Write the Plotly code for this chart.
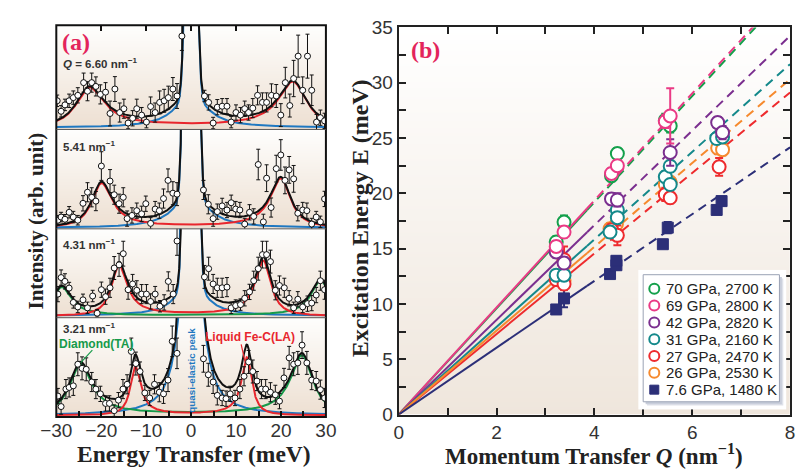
import numpy as np
import plotly.graph_objects as go

# ------------------------------------------------------------------
# Panel (a): IXS spectra (intensity in arbitrary units, per spectrum)
# ------------------------------------------------------------------
spec_labels = ["<b><i>Q</i> = 6.60 nm<sup>−1</sup></b>", "<b>5.41 nm<sup>−1</sup></b>",
               "<b>4.31 nm<sup>−1</sup></b>", "<b>3.21 nm<sup>−1</sup></b>"]

E_660 = [-29.8, -28.93, -28.07, -27.14, -26.21, -25.21, -23.92, -23.06, -22.12, -21.19, -20.19, -19.04,
         -18.04, -16.96, -15.89, -14.96, -14.02, -13.02, -12.09, -11.01, -9.94, -9.01, -8.0, -7.0, -6.0,
         -5.07, -4.06, -3.13, -2.05,
         2.97, 3.9, 4.9, 5.83, 6.91, 7.98, 8.92, 9.99, 10.99, 11.93, 12.79, 13.72, 14.79, 15.87, 16.8,
         17.88, 18.95, 19.96, 20.96, 21.96, 22.82, 23.82, 24.83, 25.9, 26.84, 27.91, 28.77, 29.7]
I_660 = [28, 17, 23.7, 28, 31.3, 33.7, 47, 38, 47, 43, 34.7, 37, 14.7, 40.3, 15.7, 19.7, 4.7, 9.7, 19.7,
         13, 5.7, 22, 15.7, 26.3, 28, 31.3, 40.3, 33, 95.7,
         33, 26.3, 4.7, 21.3, 22.3, 22.3, 5.7, 15.7, 13, 19.7, 15.7, 20.3, 33.7, 26.3, 26.3, 33.7, 33, 13,
         47, 23, 51.3, 74.7, 39, 74.7, 39, 5.7, 10.3, 7]
D_660 = [6, 6, 6, 7, 7, 8, 10, 10, 10, 10, 10, 10, 13, 13, 10, 10, 6, 8, 10, 8, 6, 10, 10, 12, 12, 12, 12,
         13, 15,
         6, 8, 6, 8, 8, 8, 6, 8, 8, 8, 8, 10, 10, 10, 10, 12, 12, 12, 16, 12, 19, 22, 14, 23, 16, 8, 8, 8]

E_541 = [-29.65, -28.93, -28.07, -27.14, -26.21, -25.21, -24.06, -23.06, -22.12, -21.19, -19.97, -18.04,
         -17.11, -16.03, -15.1, -14.24, -13.16, -12.09, -11.01, -10.08, -9.01, -8.0, -7.07, -6.14, -5.14,
         -4.06, -3.13,
         2.75, 3.83, 4.9, 5.83, 6.91, 7.98, 8.92, 9.92, 10.85, 11.93, 13.0, 13.93, 14.94, 16.08, 16.8,
         17.8, 18.95, 19.96, 20.89, 21.82, 22.82, 23.75, 24.83, 25.76, 26.84, 27.84, 28.77, 29.7]
I_541 = [8, 11.3, 9, 16.3, 11.3, 8, 25.7, 37.3, 32, 28, 64.7, 49, 34.7, 25.3, 32, 9.7, 13, 18, 14.7, 25.3,
         4.7, 19.7, 18, 30.7, 49.7, 36.3, 35.3,
         39.7, 24.7, 9.7, 17, 23, 18.7, 26.3, 19.7, 18.7, 4, 16.3, 12, 66.3, 6.3, 52, 21.3, 62, 76.3,
         49.7, 60.7, 51.3, 15.3, 18.7, 18, 4, 11.3, 6.3, 30.3]
D_541 = [5, 5, 5, 6, 6, 5, 8, 10, 10, 10, 15, 12, 10, 10, 10, 8, 8, 8, 8, 8, 6, 8, 8, 10, 12, 12, 12,
         10, 10, 8, 8, 8, 8, 8, 8, 8, 6, 8, 8, 16, 8, 14, 10, 14, 16, 14, 14, 14, 8, 8, 8, 6, 6, 6, 8]

E_431 = [-29.65, -28.93, -28.07, -27.14, -26.21, -25.21, -24.06, -23.06, -21.91, -20.91, -19.97, -19.04,
         -18.04, -17.11, -16.03, -15.1, -14.02, -13.02, -12.09, -11.01, -9.94, -9.01, -8.0, -6.93, -6.0,
         -5.07, -3.99, -3.13,
         2.97, 3.9, 4.9, 5.83, 6.91, 7.98, 8.92, 9.92, 10.99, 11.93, 13.0, 13.93, 14.94, 15.87, 16.8,
         17.66, 18.74, 19.67, 20.74, 21.82, 22.82, 23.75, 24.83, 25.9, 26.84, 27.84, 28.77, 29.7]
I_431 = [22.7, 40, 36, 29, 14, 9.3, 16.7, 8.3, 20.7, 2.7, 27.3, 20, 29.3, 50, 53.3, 65, 27.3, 33.3, 26.7,
         22.7, 22.7, 15, 22.7, 10, 14, 36, 22.7, 78.3,
         40.7, 49.3, 33.3, 29.3, 29.3, 30, 8.3, 10.7, 11.7, 18.3, 25, 36.7, 49.3, 64, 64, 56.7, 26.7,
         31.7, 29.3, 18.3, 8.3, 17.3, 9.3, 12.7, 13.3, 21.7, 36.7, 27.3]
D_431 = [8, 8, 8, 6, 6, 6, 6, 6, 6, 4, 8, 8, 10, 12, 12, 13, 10, 10, 10, 10, 10, 8, 8, 6, 8, 10, 10, 15,
         12, 12, 10, 10, 10, 10, 6, 6, 6, 8, 8, 10, 12, 14, 14, 12, 10, 10, 10, 8, 6, 8, 6, 8, 8, 8, 10, 10]

E_321 = [-29.65, -28.93, -27.86, -27.14, -26.21, -25.21, -24.27, -23.34, -22.12, -21.19, -20.19, -19.04,
         -18.18, -17.11, -16.17, -15.17, -14.24, -13.31, -12.3, -11.37, -10.3, -9.22, -8.15, -7.07, -6.14,
         -5.14, -4.2, -3.13,
         2.75, 3.83, 4.9, 5.83, 6.91, 7.77, 8.7, 9.77, 10.85, 11.78, 12.79, 13.72, 14.65, 15.65, 16.59,
         17.66, 18.74, 19.67, 20.67, 21.82, 22.82, 23.75, 24.69, 25.76, 26.84, 27.84, 28.77, 29.7]
I_321 = [20, 9, 27.3, 29, 30.7, 53.3, 49, 48, 34.7, 27.3, 22.3, 12.3, 12.3, 4.7, 15.7, 27.3, 32.3, 66.7,
         54, 45.7, 23.3, 18, 32.3, 24, 22.3, 36.7, 77.3, 64.7,
         59, 42.3, 34.7, 20.7, 18, 17.3, 22.3, 18, 27.3, 40.7, 55.7, 45.7, 35.7, 27.3, 27.3, 24, 21.3,
         14.7, 39, 60, 53.3, 54.7, 73.3, 54.7, 36.7, 35.7, 26.7, 18]
D_321 = [8, 8, 10, 10, 10, 12, 12, 12, 10, 10, 8, 8, 8, 6, 8, 10, 10, 14, 12, 10, 8, 8, 10, 10, 10, 12, 16,
         16,
         14, 12, 12, 10, 8, 8, 8, 8, 10, 10, 12, 12, 10, 10, 10, 10, 10, 8, 10, 12, 12, 12, 14, 12, 10,
         10, 10, 10]

spec_E = [E_660, E_541, E_431, E_321]
spec_I = [I_660, I_541, I_431, I_321]
spec_D = [D_660, D_541, D_431, D_321]

# fitted-model parameters (per spectrum)
qe_amp = [36, 40, 40, 370]        # quasi-elastic Lorentzian amplitude
qe_width = [4.1, 4.0, 3.5, 1.77]  # quasi-elastic Lorentzian HWHM (meV)
qe_spike = [600, 1500, 1500, 0]   # narrow resolution-like centre
qe_sigma = [0.85, 0.9, 0.9, 0.9]
la_E0 = [23.2, 20.3, 16.3, 12.55]  # liquid Fe-C LA mode
la_gam = [7.5, 5.5, 4.2, 2.8]
la_hneg = [41, 46, 52, 50]
la_hpos = [47, 51, 57, 60]
ta_E0 = [0, 0, 29.0, 25.0]         # diamond TA mode
ta_gam = [1, 1, 5.0, 6.0]
ta_hneg = [0, 0, 30, 53]
ta_hpos = [0, 0, 37, 62]

# ------------------------------------------------------------------
# Panel (b): dispersion
# ------------------------------------------------------------------
series_names = ["70 GPa, 2700 K", "69 GPa, 2800 K", "42 GPa, 2820 K", "31 GPa, 2160 K",
                "27 GPa, 2470 K", "26 GPa, 2530 K", "7.6 GPa, 1480 K"]
series_colors = ["#14a04b", "#ea3a85", "#7b2f8f", "#14898b", "#ee2b2e", "#f68a2e", "#2c2f78"]

Q_70 = [3.22, 3.38, 4.35, 4.47, 5.45, 5.55]
E_70 = [15.6, 17.4, 21.6, 23.6, 26.6, 26.1]
S_70 = [0.5, 0.6, 0.5, 0.5, 0.6, 0.6]
Q_69 = [3.22, 3.38, 4.35, 4.47, 5.45, 5.55]
E_69 = [15.2, 16.5, 21.8, 22.5, 26.5, 27.0]
S_69 = [0.5, 0.5, 0.5, 0.5, 0.6, 2.5]
Q_42 = [3.22, 3.38, 4.35, 4.47, 5.55, 6.52, 6.62]
E_42 = [14.7, 13.7, 19.5, 19.4, 23.7, 26.4, 25.5]
S_42 = [0.5, 0.5, 0.5, 0.6, 1.2, 0.5, 0.6]
Q_31 = [3.22, 3.38, 4.32, 4.47, 4.47, 5.45, 5.55, 5.55, 6.5, 6.62]
E_31 = [12.6, 12.6, 16.5, 18.5, 17.8, 21.5, 22.45, 20.8, 24.96, 25.1]
S_31 = [0.4, 0.4, 0.5, 0.5, 0.5, 0.5, 0.5, 0.5, 0.5, 0.5]
Q_27 = [3.22, 3.38, 3.38, 4.35, 4.47, 5.45, 5.55, 6.55]
E_27 = [12.2, 14.0, 11.8, 16.7, 16.2, 19.9, 19.6, 22.4]
S_27 = [0.5, 1.2, 0.5, 0.5, 0.9, 0.6, 0.5, 0.8]
Q_26 = [3.22, 3.38, 4.32, 4.45, 5.45, 5.55, 6.52, 6.62]
E_26 = [12.5, 12.1, 16.8, 17.2, 20.8, 21.0, 24.1, 23.95]
S_26 = [0.4, 0.4, 0.5, 0.5, 0.5, 0.5, 0.5, 0.5]
Q_7 = [3.22, 3.38, 4.32, 4.45, 4.45, 5.4, 5.5, 6.5, 6.6]
E_7 = [9.5, 10.5, 12.7, 13.5, 13.9, 15.4, 16.9, 18.5, 19.3]
S_7 = [0.3, 0.8, 0.3, 0.4, 0.4, 0.3, 0.5, 0.3, 0.4]

series_Q = [Q_70, Q_69, Q_42, Q_31, Q_27, Q_26, Q_7]
series_E = [E_70, E_69, E_42, E_31, E_27, E_26, E_7]
series_S = [S_70, S_69, S_42, S_31, S_27, S_26, S_7]
series_slope = [4.80, 4.84, 4.28, 3.96, 3.64, 3.79, 3.02]   # sound velocity fits E = v Q
Q_solid_end = 3.85

# ------------------------------------------------------------------
W, H = 803, 473
def pxx(x): return x / W
def pxy(y): return 1 - y / H

SANS = "Liberation Sans"
SERIF = "Liberation Serif"
BLUE, RED, GREEN, BLACK = "#1f78c1", "#e8262d", "#169a4a", "#111111"

fig = go.Figure()

A_XD = [pxx(41.7), pxx(320.7)]
A_ROWS = [(16, 125), (125, 229), (229, 322), (322, 426)]
A_BASE = [123, 228, 320, 424]

def lor(E, A, g):
    return A / (1 + (E / g) ** 2)

def dho(E, E0, gam, hn, hp):
    if hn <= 0:
        return np.zeros_like(E)
    h = np.sqrt(hn * hp)
    b = np.log(hp / hn) / (2 * E0)
    return h * np.exp(b * E) * (gam * E0) ** 2 / ((E ** 2 - E0 ** 2) ** 2 + (E * gam) ** 2)

Eg = np.linspace(-30, 30, 2401)

for k in range(4):
    ax = k + 2
    top, bot = A_ROWS[k]
    base = A_BASE[k]
    ylo, yhi = -(bot - base), base - top
    xa = f"x{ax}"
    ya = f"y{ax}"
    # background gradient
    fig.add_trace(go.Heatmap(x=[-30, 30], y=[ylo, yhi], z=[[0, 0], [1, 1]], zsmooth="best",
                             colorscale=[[0, "#eddfd1"], [1, "#fefefd"]], showscale=False,
                             hoverinfo="skip", xaxis=xa, yaxis=ya))
    blue = lor(Eg, qe_amp[k], qe_width[k]) + qe_spike[k] * np.exp(-Eg ** 2 / (2 * qe_sigma[k] ** 2))
    red = dho(Eg, la_E0[k], la_gam[k], la_hneg[k], la_hpos[k])
    green = dho(Eg, ta_E0[k], ta_gam[k], ta_hneg[k], ta_hpos[k]) if ta_hneg[k] > 0 else None
    total = blue + red + (green if green is not None else 0)
    fig.add_trace(go.Scatter(x=Eg, y=blue, mode="lines", line=dict(color=BLUE, width=2),
                             showlegend=False, xaxis=xa, yaxis=ya, hoverinfo="skip"))
    if green is not None:
        fig.add_trace(go.Scatter(x=Eg, y=green, mode="lines", line=dict(color=GREEN, width=2),
                                 showlegend=False, xaxis=xa, yaxis=ya, hoverinfo="skip"))
    fig.add_trace(go.Scatter(x=Eg, y=red, mode="lines", line=dict(color=RED, width=2),
                             showlegend=False, xaxis=xa, yaxis=ya, hoverinfo="skip"))
    fig.add_trace(go.Scatter(x=Eg, y=total, mode="lines", line=dict(color=BLACK, width=2),
                             showlegend=False, xaxis=xa, yaxis=ya, hoverinfo="skip"))
    fig.add_trace(go.Scatter(x=spec_E[k], y=spec_I[k], mode="markers",
                             error_y=dict(type="data", array=spec_D[k], color="#111", thickness=1, width=2),
                             marker=dict(symbol="circle", size=6, color="white",
                                         line=dict(color="#111", width=1)),
                             showlegend=False, xaxis=xa, yaxis=ya, cliponaxis=True))
    xaxis = dict(domain=A_XD, anchor=ya, range=[-30, 30], showgrid=False, zeroline=False,
                 showline=False, fixedrange=True)
    if k == 0:
        xaxis.update(side="top", ticks="inside", ticklen=6, tickwidth=1.5, tickcolor="#111",
                     tickvals=list(range(-30, 31, 10)), showticklabels=False)
    elif k == 3:
        xaxis.update(ticks="inside", ticklen=6, tickwidth=1.5, tickcolor="#111",
                     tickvals=list(range(-30, 31, 10)),
                     ticktext=[("−" + str(-v) if v < 0 else str(v)) for v in range(-30, 31, 10)],
                     minor=dict(ticks="inside", ticklen=6, tickwidth=1.5, tickcolor="#111", dtick=5,
                                tick0=-30),
                     tickfont=dict(family=SANS, size=19, color="#333"))
    else:
        xaxis.update(showticklabels=False, ticks="")
    yaxis = dict(domain=[pxy(bot), pxy(top)], anchor=xa, range=[ylo, yhi], showgrid=False,
                 zeroline=False, showticklabels=False, ticks="", showline=False, fixedrange=True)
    fig.update_layout(**{f"xaxis{ax}": xaxis, f"yaxis{ax}": yaxis})

# ---------------- Panel (b) ----------------
fig.add_trace(go.Heatmap(x=[0, 8], y=[0, 35], z=[[0, 0], [1, 1]], zsmooth="best",
                         colorscale=[[0, "#efe6dc"], [1, "#ffffff"]], showscale=False,
                         hoverinfo="skip", xaxis="x", yaxis="y"))
for i in range(7):
    v = series_slope[i]
    c = series_colors[i]
    fig.add_trace(go.Scatter(x=[0, Q_solid_end], y=[0, v * Q_solid_end], mode="lines",
                             line=dict(color=c, width=2), showlegend=False, hoverinfo="skip"))
    fig.add_trace(go.Scatter(x=[Q_solid_end, 8], y=[v * Q_solid_end, v * 8], mode="lines",
                             line=dict(color=c, width=2, dash="9px,6px"), showlegend=False,
                             hoverinfo="skip"))

def series_marker(i, size_circle=13, size_square=11):
    c = series_colors[i]
    if i == 6:
        return dict(symbol="square", size=size_square, color=c, line=dict(color=c, width=1))
    return dict(symbol="circle", size=size_circle, color="white", line=dict(color=c, width=2))

draw_order = [6, 5, 4, 3, 2, 0, 1]
for i in draw_order:
    c = series_colors[i]
    fig.add_trace(go.Scatter(x=series_Q[i], y=series_E[i], mode="markers", name=series_names[i],
                             marker=series_marker(i), showlegend=False,
                             error_y=dict(type="data", array=series_S[i], color=c, thickness=2,
                                          width=4)))

tick_font = dict(family=SANS, size=19, color="#333")
fig.update_layout(
    xaxis=dict(domain=[pxx(396), pxx(801)], anchor="y", range=[0, 8], showgrid=False, zeroline=False,
               showline=True, linewidth=2, linecolor="#222", mirror="allticks", ticks="inside",
               ticklen=7, tickwidth=1.5, tickcolor="#222", tickvals=[0, 2, 4, 6, 8],
               ticklabeloverflow="allow",
               minor=dict(ticks="inside", ticklen=7, tickwidth=1.5, tickcolor="#222", dtick=1, tick0=0),
               tickfont=tick_font),
    yaxis=dict(domain=[pxy(423.3), pxy(18.3)], anchor="x", range=[0, 35], showgrid=False,
               zeroline=False, showline=True, linewidth=2, linecolor="#222", mirror="allticks",
               ticks="inside", ticklen=7, tickwidth=1.5, tickcolor="#222", dtick=5, tick0=0,
               minor=dict(ticks="inside", ticklen=7, tickwidth=1.5, tickcolor="#222", dtick=2.5, tick0=0),
               tickfont=tick_font),
)

# ---------------- custom legend (own pixel-unit axis) ----------------
LEG_BOX = (649, 277, 790, 410)
leg_row0, leg_step = 291.7, 17.6
fig.update_layout(
    xaxis6=dict(domain=[pxx(644), pxx(797)], range=[644, 797], visible=False, fixedrange=True,
                anchor="y6"),
    yaxis6=dict(domain=[pxy(418), pxy(272)], range=[418, 272], visible=False, fixedrange=True,
                anchor="x6"),
)
x0, y0, x1, y1 = LEG_BOX
for off, col in [(4, "#dfe2ea"), (2.5, "#c9cedb")]:
    fig.add_trace(go.Scatter(x=[x0 + off, x1 + off, x1 + off, x0 + off, x0 + off],
                             y=[y0 + off, y0 + off, y1 + off, y1 + off, y0 + off],
                             fill="toself", fillcolor=col, mode="lines", line=dict(width=0),
                             showlegend=False, hoverinfo="skip", xaxis="x6", yaxis="y6"))
fig.add_trace(go.Scatter(x=[x0, x1, x1, x0, x0], y=[y0, y0, y1, y1, y0], fill="toself",
                         fillcolor="white", mode="lines", line=dict(color="#9aa2b4", width=1),
                         showlegend=False, hoverinfo="skip", xaxis="x6", yaxis="y6"))
for i in range(7):
    fig.add_trace(go.Scatter(x=[660.5], y=[leg_row0 + leg_step * i], mode="markers",
                             marker=series_marker(i, 10, 9), showlegend=False, hoverinfo="skip",
                             xaxis="x6", yaxis="y6", cliponaxis=False))

# frames / separators for panel (a)
shapes = [dict(type="rect", xref="paper", yref="paper", x0=A_XD[0], x1=A_XD[1], y0=pxy(426), y1=pxy(16),
               line=dict(color="#111", width=2), layer="above")]
for yy in [125, 229, 322]:
    shapes.append(dict(type="line", xref="paper", yref="paper", x0=A_XD[0], x1=A_XD[1], y0=pxy(yy),
                       y1=pxy(yy), line=dict(color="#555", width=1), layer="above"))
# pointer lines
shapes.append(dict(type="line", xref="paper", yref="paper", x0=pxx(79), y0=pxy(356), x1=pxx(67),
                   y1=pxy(369), line=dict(color=GREEN, width=1.2), layer="above"))
shapes.append(dict(type="line", xref="paper", yref="paper", x0=pxx(233), y0=pxy(350), x1=pxx(237),
                   y1=pxy(368), line=dict(color=RED, width=1.2), layer="above"))

ann = []
def add_text(text, x, y, size, color, family=SANS, xanchor="left", angle=0):
    ann.append(dict(text=text, x=pxx(x), y=pxy(y), xref="paper", yref="paper", showarrow=False,
                    xanchor=xanchor, yanchor="middle", textangle=angle, borderpad=0,
                    font=dict(family=family, size=size, color=color)))

add_text("<b>(a)</b>", 62, 33, 24, "#e3245b", SERIF, "center")
add_text("<b>(b)</b>", 424, 42, 24, "#e3245b", SERIF, "center")
label_y = [55, 142, 245, 333]
for k in range(4):
    add_text(spec_labels[k], 48, label_y[k], 11.5, "#333")
add_text("<b>Diamond(TA)</b>", 43, 349, 12, GREEN)
add_text("<b>Liquid Fe-C(LA)</b>", 195, 342, 12, RED)
add_text("<b>quasi-elastic peak</b>", 181.5, 377, 9.8, BLUE, SANS, "center", -90)
add_text("<b>Intensity (arb. unit)</b>", 21, 221, 21, "#222", SERIF, "center", -90)
add_text("<b>Energy Transfer (meV)</b>", 184, 465, 23.5, "#222", SERIF, "center")
add_text("<b>Excitation Energy E (meV)</b>", 356, 218, 24, "#222", SERIF, "center", -90)
add_text("<b>Momentum Transfer <i>Q</i> (nm<sup>−1</sup>)</b>", 598, 465, 23, "#222", SERIF, "center")
for i in range(7):
    add_text(series_names[i], 672, leg_row0 + leg_step * i, 15, "#222")

fig.update_layout(
    width=W, height=H, margin=dict(l=0, r=0, t=0, b=0),
    paper_bgcolor="white", plot_bgcolor="white",
    shapes=shapes, annotations=ann, showlegend=False,
)

fig.write_html("out.html")
